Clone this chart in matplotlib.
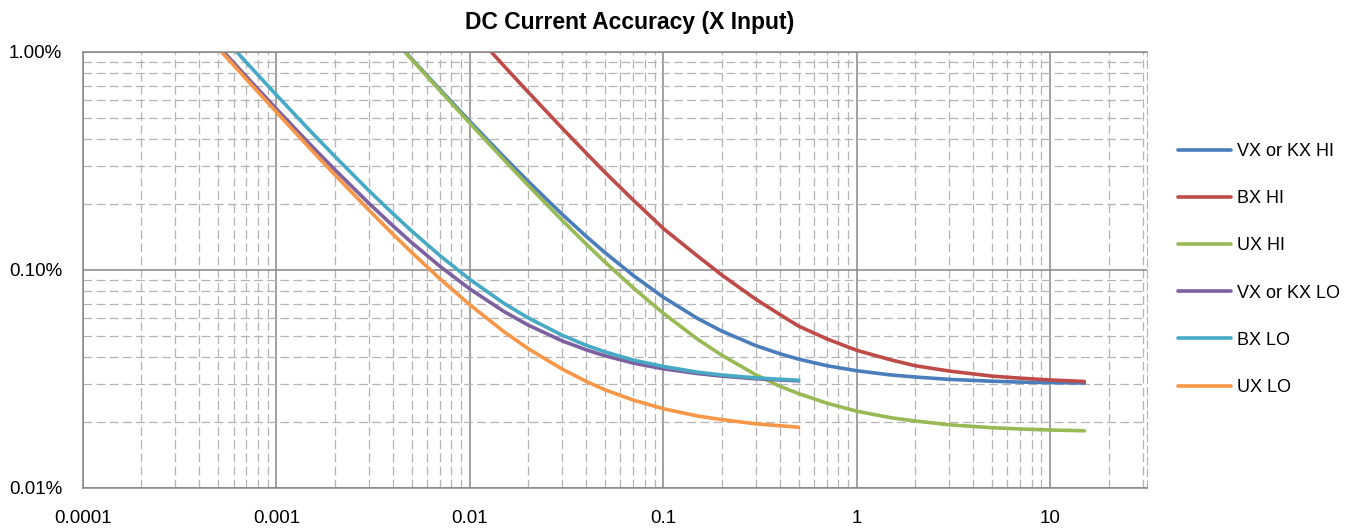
import matplotlib
matplotlib.use("Agg")
import matplotlib.pyplot as plt
from matplotlib.ticker import LogLocator, FuncFormatter, NullFormatter

# values (x = current, y = accuracy in %)
vx_hi_x = [0.00464, 0.005, 0.007, 0.01, 0.015, 0.02, 0.03, 0.04, 0.05, 0.07, 0.1, 0.15, 0.2, 0.3, 0.4, 0.5, 0.7,
           1, 1.5, 2, 3, 5, 7, 10, 15]
vx_hi_y = [1.0, 0.93, 0.673, 0.48, 0.33, 0.255, 0.18, 0.1425, 0.12, 0.0943, 0.075, 0.06, 0.0525, 0.045, 0.0413, 0.039,
           0.0364, 0.0345, 0.033, 0.0323, 0.0315, 0.0309, 0.0306, 0.03045, 0.0303]

bx_hi_x = [0.0129, 0.015, 0.02, 0.03, 0.04, 0.05, 0.07, 0.1, 0.15, 0.2, 0.3, 0.4, 0.5, 0.7,
           1, 1.5, 2, 3, 5, 7, 10, 15]
bx_hi_y = [1.0, 0.863, 0.655, 0.447, 0.343, 0.28, 0.209, 0.155, 0.116, 0.095, 0.0735, 0.0625, 0.0553, 0.0483,
           0.0428, 0.0387, 0.0364, 0.0344, 0.0326, 0.0319, 0.0313, 0.0308]

ux_hi_x = [0.00461, 0.005, 0.007, 0.01, 0.015, 0.02, 0.03, 0.04, 0.05, 0.07, 0.1, 0.15, 0.2, 0.3, 0.4, 0.5, 0.7,
           1, 1.5, 2, 3, 5, 7, 10, 15]
ux_hi_y = [1.0, 0.924, 0.665, 0.471, 0.32, 0.2445, 0.169, 0.1313, 0.1086, 0.0827, 0.0633, 0.0482, 0.0407, 0.0331,
           0.0293, 0.0271, 0.0245, 0.0225, 0.021, 0.0203, 0.0195, 0.0189, 0.01865, 0.01845, 0.0183]

vx_lo_x = [0.000534, 0.0007, 0.001, 0.0015, 0.002, 0.003, 0.004, 0.005, 0.007, 0.01, 0.015, 0.02, 0.03, 0.04, 0.05,
           0.07, 0.1, 0.15, 0.2, 0.3, 0.5]
vx_lo_y = [1.0, 0.77, 0.548, 0.375, 0.289, 0.2027, 0.1595, 0.1336, 0.104, 0.0818, 0.0645, 0.0559, 0.0473, 0.043,
           0.0404, 0.0374, 0.0352, 0.0335, 0.0326, 0.0317, 0.031]

bx_lo_x = [0.000624, 0.0007, 0.001, 0.0015, 0.002, 0.003, 0.004, 0.005, 0.007, 0.01, 0.015, 0.02, 0.03, 0.04, 0.05,
           0.07, 0.1, 0.15, 0.2, 0.3, 0.5]
bx_lo_y = [1.0, 0.894, 0.635, 0.433, 0.3325, 0.2317, 0.1813, 0.151, 0.1164, 0.0905, 0.0703, 0.0603, 0.0502, 0.0451,
           0.0421, 0.0386, 0.0361, 0.034, 0.033, 0.032, 0.0312]

ux_lo_x = [0.000521, 0.0007, 0.001, 0.0015, 0.002, 0.003, 0.004, 0.005, 0.007, 0.01, 0.015, 0.02, 0.03, 0.04, 0.05,
           0.07, 0.1, 0.15, 0.2, 0.3, 0.5]
ux_lo_y = [1.0, 0.749, 0.53, 0.359, 0.274, 0.1887, 0.146, 0.1204, 0.0911, 0.0692, 0.0521, 0.0436, 0.0351, 0.0308,
           0.0282, 0.0253, 0.0231, 0.0214, 0.0206, 0.0197, 0.019]

series = [
    ("VX or KX HI", vx_hi_x, vx_hi_y, "#4A7EBB"),
    ("BX HI", bx_hi_x, bx_hi_y, "#BE4B48"),
    ("UX HI", ux_hi_x, ux_hi_y, "#98B954"),
    ("VX or KX LO", vx_lo_x, vx_lo_y, "#7D60A0"),
    ("BX LO", bx_lo_x, bx_lo_y, "#46AAC5"),
    ("UX LO", ux_lo_x, ux_lo_y, "#F79646"),
]

plt.rcParams["font.family"] = ["Liberation Sans", "DejaVu Sans"]

fig = plt.figure(figsize=(13.51, 5.30), dpi=100)
ax = fig.add_axes([83 / 1351, 1 - 488 / 530, (1147 - 83) / 1351, (488 - 52) / 530])

for name, xs, ys, col in series:
    ax.plot(xs, ys, color=col, lw=2.6, label=name, solid_capstyle="round", solid_joinstyle="round")

ax.set_xscale("log")
ax.set_yscale("log")
ax.set_xlim(1e-4, 10 ** 1.5)
ax.set_ylim(0.01, 1.0)

ax.xaxis.set_major_locator(LogLocator(base=10))
ax.xaxis.set_minor_locator(LogLocator(base=10, subs=range(2, 10)))
ax.yaxis.set_major_locator(LogLocator(base=10))
ax.yaxis.set_minor_locator(LogLocator(base=10, subs=range(2, 10)))
ax.xaxis.set_major_formatter(FuncFormatter(lambda v, p: f"{v:g}"))
ax.yaxis.set_major_formatter(FuncFormatter(lambda v, p: f"{v:.2f}%"))
ax.xaxis.set_minor_formatter(NullFormatter())
ax.yaxis.set_minor_formatter(NullFormatter())

ax.grid(which="major", color="#878787", lw=1.1, ls="-")
ax.grid(which="minor", color="#B4B4B4", lw=0.9, ls=(0, (7, 3.5)))
ax.set_axisbelow(True)
ax.tick_params(which="both", length=0)
ax.tick_params(axis="x", labelsize=13.5, pad=16)
ax.tick_params(axis="y", labelsize=13.5, pad=15)

for s in ["left", "top", "bottom"]:
    ax.spines[s].set_color("#878787")
    ax.spines[s].set_linewidth(1.1)
ax.spines["right"].set_color("#B4B4B4")
ax.spines["right"].set_linestyle((0, (7, 3.5)))

fig.text(630 / 1351, 1 - 23 / 530, "DC Current Accuracy (X Input)", ha="center", va="center",
         fontsize=16.5, fontweight="bold")

ax.legend(loc="center left", bbox_to_anchor=(1162 / 1351, 1 - 269.5 / 530), bbox_transform=fig.transFigure,
          frameon=False, fontsize=13, handlelength=2.9, handletextpad=0.35, labelspacing=1.67)

fig.savefig("out.png", dpi=100)
